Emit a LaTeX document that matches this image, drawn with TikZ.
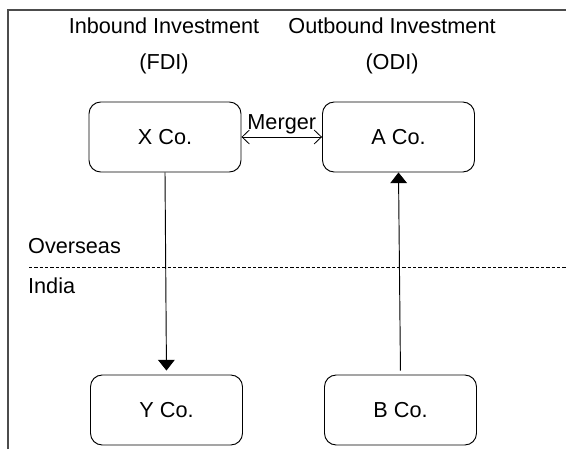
\documentclass[tikz,border=0pt]{standalone}
\usepackage{fontspec}
\setmainfont{Liberation Sans}
\usetikzlibrary{arrows.meta}

\begin{document}
\begin{tikzpicture}[
    >=Latex,
    font=\fontsize{18.5pt}{30.7pt}\selectfont,
    company/.style={
        draw,
        rounded corners=10pt,
        align=center,
        minimum width=4.56cm,
        minimum height=2.1cm,
        inner sep=3pt,
        line width=0.8pt
    },
    flow/.style={
        line width=0.8pt,
        -{Triangle[length=0.32cm,width=0.5cm]}
    }
]

\useasboundingbox (0,0) rectangle (16.98,13.47);

% --------------------------------------------------
% Frame
% --------------------------------------------------

\coordinate (frameBL) at (0.24,0);
\coordinate (frameTL) at (0.24,13.17);
\coordinate (frameTR) at (16.98,13.17);

\draw[line width=1.3pt,black!70] (frameBL) -- (frameTL) -- (frameTR);

% --------------------------------------------------
% Headings
% --------------------------------------------------

\node[align=center] (inbound) at (4.92,12.08)
    {Inbound Investment\\(FDI)};

\node[align=center] (outbound) at (11.76,12.08)
    {Outbound Investment\\(ODI)};

% --------------------------------------------------
% Companies
% --------------------------------------------------

\node[company] (xco) at (4.95,9.36)
    {X Co.};

\node[company] (aco) at (11.955,9.36)
    {A Co.};

\node[company] (yco) at (4.995,1.17)
    {Y Co.};

\node[company] (bco) at (12.015,1.17)
    {B Co.};

% --------------------------------------------------
% Border line
% --------------------------------------------------

\coordinate (borderW) at (0.87,5.46);
\coordinate (borderE) at (16.98,5.46);

\draw[line width=0.7pt,dash pattern=on 0.1cm off 0.06cm]
    (borderW) -- (borderE);

\node[anchor=west] (overseas) at (0.72,6.09)
    {Overseas};

\node[anchor=west] (india) at (0.72,4.89)
    {India};

% --------------------------------------------------
% Investment flows
% --------------------------------------------------

\draw[flow,shorten >=0.12cm]
    (xco.south) -- (yco.north);

\draw[flow,shorten <=0.12cm]
    (bco.north) -- (aco.south);

\draw[line width=0.7pt,
      {Straight Barb[length=0.22cm,width=0.42cm]}-{Straight Barb[length=0.22cm,width=0.42cm]}]
    (xco.east) -- node[above=1pt,inner sep=1pt] (merger) {Merger} (aco.west);

\end{tikzpicture}
\end{document}
